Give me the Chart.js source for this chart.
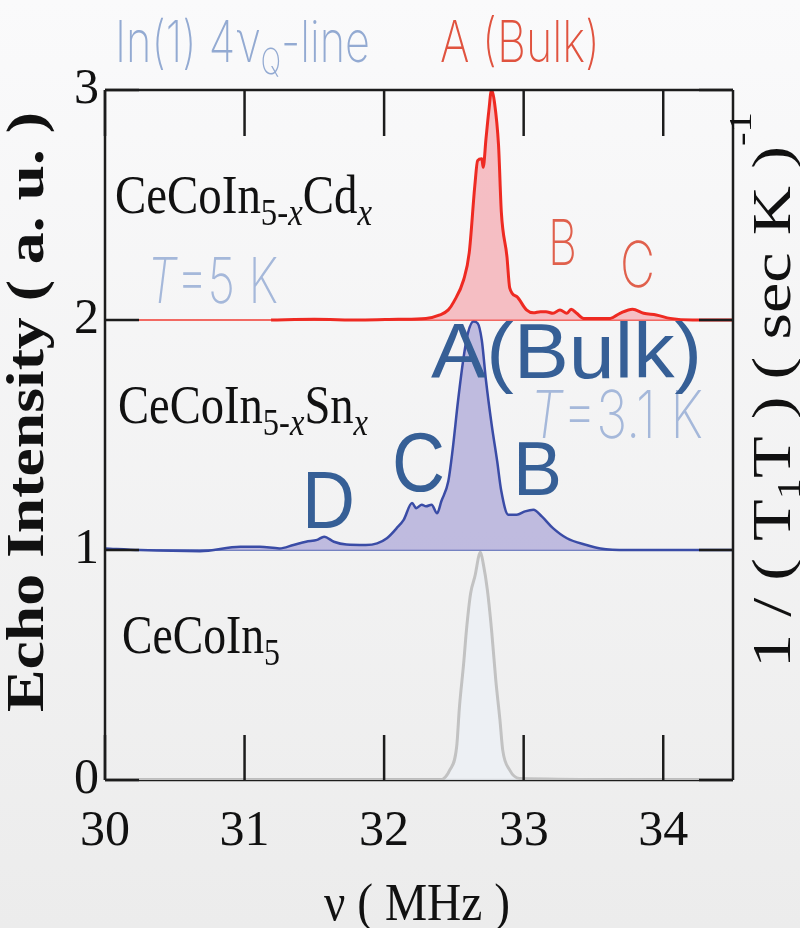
<!DOCTYPE html>
<html>
<head>
  <title>In(1) 4vQ-line spectra</title>
  <style>
      body {
          margin: 0;
          padding: 0;
          background: linear-gradient(#fafafb, #ececec);
      }
      #wrap {
          position: relative;
          width: 800px;
          height: 928px;
      }
  </style>
</head>
<body>
  <div id="wrap"><canvas id="nqrChart" width="800" height="928"></canvas></div>
  <script src="https://cdn.jsdelivr.net/npm/chart.js"></script>
  <script>
      // axis ticks
      const freqTicks = [30, 31, 32, 33, 34];
      const echoTicks = [0, 1, 2, 3];
      const baseFreq = [30, 34.5];

      // CeCoIn5-xCdx, T = 5 K (offset +2)
      const freqCd = [31.19, 31.5, 31.83, 32.1, 32.3, 32.4, 32.46, 32.5, 32.57, 32.61, 32.65, 32.67, 32.7, 32.71,
          32.73, 32.75, 32.77, 32.79, 32.82, 32.84, 32.88, 32.9, 32.95, 33.02, 33.07, 33.12, 33.16, 33.21,
          33.26, 33.31, 33.34, 33.38, 33.43, 33.62, 33.69, 33.78, 33.86, 33.95, 34.05, 34.21, 34.5];
      const echoCd = [2.0, 2.003, 2.0, 2.003, 2.007, 2.022, 2.044, 2.08, 2.175, 2.293, 2.584, 2.693, 2.701, 2.664,
          2.788, 2.907, 3.0, 2.95, 2.759, 2.469, 2.277, 2.14, 2.102, 2.044, 2.031, 2.036, 2.036, 2.029,
          2.044, 2.029, 2.047, 2.029, 2.007, 2.007, 2.029, 2.047, 2.029, 2.022, 2.007, 2.0, 2.0];

      // CeCoIn5-xSnx, T = 3.1 K (offset +1)
      const freqSn = [30.0, 30.25, 30.68, 30.97, 31.11, 31.25, 31.35, 31.44, 31.52, 31.57, 31.64, 31.73, 31.87,
          31.95, 32.02, 32.09, 32.14, 32.2, 32.23, 32.27, 32.3, 32.34, 32.38, 32.41, 32.46, 32.49, 32.53,
          32.57, 32.6, 32.64, 32.67, 32.7, 32.73, 32.77, 32.81, 32.84, 32.89, 32.95, 33.01, 33.07, 33.13,
          33.21, 33.31, 33.45, 33.55, 33.74, 34.0, 34.5];
      const echoSn = [1.007, 1.0, 0.995, 1.014, 1.014, 1.007, 1.022, 1.036, 1.044, 1.058, 1.036, 1.024, 1.022,
          1.029, 1.051, 1.095, 1.131, 1.204, 1.182, 1.197, 1.19, 1.197, 1.16, 1.212, 1.299, 1.431, 1.65,
          1.839, 1.942, 1.993, 1.986, 1.912, 1.737, 1.548, 1.387, 1.255, 1.153, 1.153, 1.168, 1.175, 1.146,
          1.095, 1.051, 1.022, 1.007, 1.0, 1.0, 1.0];

      // CeCoIn5
      const freqPure = [30.0, 32.11, 32.4, 32.47, 32.52, 32.54, 32.57, 32.59, 32.62, 32.65, 32.69, 32.71, 32.74,
          32.77, 32.8, 32.83, 32.85, 32.9, 32.97, 34.5];
      const echoPure = [0, 0, 0, 0.043, 0.145, 0.319, 0.507, 0.652, 0.812, 0.884, 0.99, 0.942, 0.826,
          0.652, 0.435, 0.261, 0.13, 0.043, 0.007, 0];

      const toPoints = (xs, ys) => xs.map((x, i) => ({ x: x, y: ys[i] }));

      const serif = '"Liberation Serif", "Times New Roman", serif';
      const sans = '"Liberation Sans", Arial, sans-serif';
      const thin = 'Inter, "Open Sans", sans-serif';

      // text drawn on the canvas; size from cap height, squeezed to the measured width
      function putText(ctx, parts, o) {
          const size = o.cap / o.capRatio;
          const fontFor = p => (p.i ? 'italic ' : '') + (o.weight || 400) + ' ' + (size * (p.s || 1)) + 'px ' + o.family;
          ctx.save();
          let w = 0;
          parts.forEach(p => { ctx.font = fontFor(p); w += ctx.measureText(p.t).width; });
          ctx.translate(o.x, o.y);
          if (o.rotate) ctx.rotate(-Math.PI / 2);
          ctx.scale(o.width / w, 1);
          ctx.fillStyle = o.color;
          ctx.textBaseline = 'alphabetic';
          ctx.textAlign = 'left';
          let cx = 0;
          parts.forEach(p => {
              ctx.font = fontFor(p);
              ctx.fillText(p.t, cx, (p.dy || 0) * size);
              cx += ctx.measureText(p.t).width;
          });
          ctx.restore();
      }

      const sub = (t, i) => ({ t: t, s: 0.7, dy: 0.22, i: i });

      const labels = [
          { parts: [{ t: 'In(1) 4ν' }, { t: 'Q', s: 0.62, dy: 0.2 }, { t: '-line' }],
            o: { x: 115, y: 62, width: 255, cap: 42, capRatio: 0.73, family: thin, weight: 200, color: '#93aad2' } },
          { parts: [{ t: 'A (Bulk)' }],
            o: { x: 440, y: 62, width: 160, cap: 42, capRatio: 0.73, family: thin, weight: 200, color: '#e0533f' } },
          { parts: [{ t: 'CeCoIn' }, sub('5-'), sub('x', true), { t: 'Cd' }, sub('x', true)],
            o: { x: 115, y: 213, width: 257, cap: 36, capRatio: 0.662, family: serif, color: '#111' } },
          { parts: [{ t: 'T', i: true }, { t: '=5 K' }],
            o: { x: 147, y: 303, width: 131, cap: 46, capRatio: 0.73, family: thin, weight: 200, color: '#a5b8da' } },
          { parts: [{ t: 'CeCoIn' }, sub('5-'), sub('x', true), { t: 'Sn' }, sub('x', true)],
            o: { x: 118, y: 423, width: 250, cap: 36, capRatio: 0.662, family: serif, color: '#111' } },
          { parts: [{ t: 'CeCoIn' }, sub('5')],
            o: { x: 122, y: 653, width: 158, cap: 36, capRatio: 0.662, family: serif, color: '#111' } },
          { parts: [{ t: 'B' }],
            o: { x: 548, y: 265, width: 29, cap: 46, capRatio: 0.73, family: thin, weight: 200, color: '#e0604c' } },
          { parts: [{ t: 'C' }],
            o: { x: 620, y: 287, width: 35, cap: 46, capRatio: 0.73, family: thin, weight: 200, color: '#e0604c' } },
          { parts: [{ t: 'T', i: true }, { t: '=3.1 K' }],
            o: { x: 530, y: 438, width: 173, cap: 48, capRatio: 0.73, family: thin, weight: 200, color: '#a5b8da' } },
          { parts: [{ t: 'A(Bulk)' }],
            o: { x: 431, y: 378, width: 271, cap: 56, capRatio: 0.716, family: sans, color: '#365f96' } },
          { parts: [{ t: 'C' }],
            o: { x: 392, y: 491, width: 53, cap: 60, capRatio: 0.716, family: sans, color: '#365f96' } },
          { parts: [{ t: 'B' }],
            o: { x: 513, y: 495, width: 49, cap: 54, capRatio: 0.716, family: sans, color: '#365f96' } },
          { parts: [{ t: 'D' }],
            o: { x: 302, y: 528, width: 53, cap: 58, capRatio: 0.716, family: sans, color: '#365f96' } },
          { parts: [{ t: 'ν ( MHz )' }],
            o: { x: 324, y: 920, width: 186, cap: 35, capRatio: 0.662, family: serif, color: '#111' } },
          { parts: [{ t: 'Echo Intensity ( a. u. )' }],
            o: { x: 43, y: 712, width: 600, cap: 35, capRatio: 0.662, family: serif, weight: 700, color: '#111', rotate: true } },
          { parts: [{ t: '1 / ( T' }, { t: '1', s: 0.62, dy: 0.18 }, { t: 'T ) ( sec K )' }, { t: '-1', s: 0.6, dy: -0.72 }],
            o: { x: 790, y: 668, width: 556, cap: 36, capRatio: 0.662, family: serif, color: '#111', rotate: true } }
      ];

      function segment(ctx, x1, y1, x2, y2) {
          ctx.beginPath();
          ctx.moveTo(x1, y1);
          ctx.lineTo(x2, y2);
          ctx.stroke();
      }

      const framePlugin = {
          id: 'frame',
          beforeDatasetsDraw(chart) {
              // bottom edge goes under the CeCoIn5 baseline
              const { ctx, chartArea: a } = chart;
              ctx.save();
              ctx.strokeStyle = '#1c1c1c';
              ctx.lineWidth = 2.5;
              segment(ctx, a.left, a.bottom, a.right, a.bottom);
              ctx.restore();
          },
          afterDraw(chart) {
              const { ctx, chartArea: a } = chart;
              const xs = chart.scales.x;
              const ys = chart.scales.y;
              ctx.save();
              ctx.strokeStyle = '#1c1c1c';
              ctx.lineWidth = 2.5;
              ctx.lineCap = 'butt';
              segment(ctx, a.left, a.top, a.right, a.top);
              segment(ctx, a.left, a.top, a.left, a.bottom);
              segment(ctx, a.right, a.top, a.right, a.bottom);
              for (const v of freqTicks) {
                  const px = xs.getPixelForValue(v);
                  segment(ctx, px, a.top, px, a.top + 46);
                  segment(ctx, px, a.bottom, px, a.bottom - 45);
              }
              for (const v of echoTicks) {
                  const py = ys.getPixelForValue(v);
                  segment(ctx, a.left, py, a.left + 34, py);
                  segment(ctx, a.right, py, a.right - 34, py);
              }
              ctx.restore();
              labels.forEach(l => putText(ctx, l.parts, l.o));
          }
      };

      const ctx = document.getElementById('nqrChart').getContext('2d');
      const nqrChart = new Chart(ctx, {
          type: 'line',
          data: {
              datasets: [
                  {
                      label: 'CeCoIn5-xCdx',
                      data: toPoints(freqCd, echoCd),
                      borderColor: '#ee2a22',
                      borderWidth: 3,
                      backgroundColor: 'rgba(245, 160, 168, 0.65)',
                      fill: { value: 2 },
                      order: 1
                  },
                  {
                      label: 'Cd baseline',
                      data: toPoints(baseFreq, [2, 2]),
                      borderColor: '#f03a30',
                      borderWidth: 1.5,
                      fill: false,
                      order: 2
                  },
                  {
                      label: 'CeCoIn5-xSnx',
                      data: toPoints(freqSn, echoSn),
                      borderColor: '#3a4ca6',
                      borderWidth: 2.5,
                      backgroundColor: 'rgba(178, 172, 218, 0.8)',
                      fill: { value: 1 },
                      order: 3
                  },
                  {
                      label: 'Sn baseline',
                      data: toPoints(baseFreq, [1, 1]),
                      borderColor: '#4a5cb0',
                      borderWidth: 1.5,
                      fill: false,
                      order: 4
                  },
                  {
                      label: 'CeCoIn5',
                      data: toPoints(freqPure, echoPure),
                      borderColor: '#c2c2c2',
                      borderWidth: 3,
                      backgroundColor: 'rgba(236, 239, 244, 0.9)',
                      fill: { value: 0 },
                      order: 5
                  }
              ]
          },
          options: {
              responsive: false,
              animation: false,
              layout: { padding: { top: 90, right: 67, left: 0, bottom: 0 } },
              elements: {
                  point: { radius: 0 },
                  line: { cubicInterpolationMode: 'monotone' }
              },
              plugins: {
                  legend: { display: false },
                  tooltip: { enabled: false }
              },
              scales: {
                  x: {
                      type: 'linear',
                      min: 30,
                      max: 34.5,
                      afterFit: s => { s.height = 148; },
                      afterBuildTicks: s => { s.ticks = freqTicks.map(v => ({ value: v })); },
                      grid: { display: false, drawTicks: false },
                      border: { display: false },
                      ticks: { font: { family: serif, size: 50 }, color: '#111', padding: 22 }
                  },
                  y: {
                      min: 0,
                      max: 3,
                      afterFit: s => { s.width = 105; },
                      afterBuildTicks: s => { s.ticks = echoTicks.map(v => ({ value: v })); },
                      grid: { display: false, drawTicks: false },
                      border: { display: false },
                      ticks: { font: { family: serif, size: 50 }, color: '#111', padding: 6 }
                  }
              }
          },
          plugins: [framePlugin]
      });
  </script>
</body>
</html>
